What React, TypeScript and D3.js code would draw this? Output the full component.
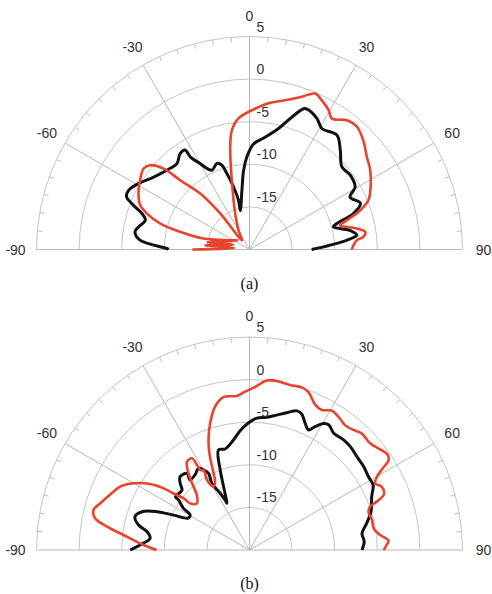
import React from "react";
import * as d3 from "d3";

// ---- data: (angle in degrees, level in dB), in drawing order ----
const blackA_angle = [-90, -89.3, -85.1, -81.2, -78.5, -74.3, -71.5, -69.1, -66.8, -63.9, -59.3, -52.9, -46.2, -40.2, -35.8, -32.9, -32.6, -29.8, -25.4, -20.8, -18.1, -16.6, -14.3, -12.6, -13.3, -7.3, -4.3, -1.6, 2.2, 7.9, 13.5, 17.7, 21.0, 22.3, 27.2, 30.9, 37.4, 42.4, 48.2, 53.6, 59.4, 62.4, 67.4, 70.9, 73.4, 74.9, 79.2, 82.4, 84.5, 86.9, 90];
const blackA_db = [-10.5, -10.3, -7.1, -6.4, -6.7, -7.3, -6.7, -5.4, -4.3, -4.2, -4.85, -5.9, -6.55, -6.8, -6.1, -6.1, -7.1, -8.4, -9.7, -9.2, -9.6, -10.7, -12.4, -14.1, -15.3, -13.0, -10.7, -9.1, -7.6, -6.7, -5.4, -3.7, -2.3, -2.2, -2.7, -3.45, -3.1, -4.2, -5.45, -5.3, -5.6, -6.7, -5.9, -7.1, -9.3, -9.8, -8.0, -7.3, -8.5, -10.5, -12.7];

const redA_angle = [-90, -85, -84.5, -74, -80, -64, -76, -53.6, -76.6, -75.7, -73.8, -70.7, -67.9, -63.2, -57.6, -52.6, -49.7, -46.7, -45, -41.4, -39.1, -39.3, -29.7, -21.7, -14.3, -10.65, -8.4, -4.8, 1.0, 7.4, 13.4, 18.9, 22.8, 25.9, 29.6, 32.2, 37, 41.2, 46.2, 51.7, 56.7, 65.1, 67.5, 70.5, 73.3, 75, 78.9, 81.4, 83.7, 85, 89.5, 90];
const redA_db = [-13.3, -18.2, -14.8, -18.0, -15.0, -17.8, -15.3, -18.2, -14.45, -11.6, -9.1, -7.25, -6.15, -5.4, -4.8, -4.35, -4.7, -6.15, -8.5, -11.25, -14.55, -18.6, -17.4, -15.45, -11.6, -7.75, -5.85, -4.55, -3.65, -2.7, -2.0, -1.05, -0.15, -0.55, -1.2, -1.85, -1.0, -0.85, -1.5, -2.45, -3.05, -4.4, -4.9, -6.2, -8.05, -9.0, -7.15, -6.25, -6.55, -7.35, -7.95, -7.95];

const blackB_angle = [-90, -86.4, -83.3, -79.9, -77.3, -73.8, -70.4, -67.5, -65.3, -62.5, -59.4, -57.7, -54.8, -54.3, -48.4, -46.1, -43.4, -39.2, -40.3, -35.9, -32, -29.9, -28.1, -29.4, -27.3, -25.9, -25.8, -22.3, -20.1, -17.2, -13.6, -8.3, -4.5, -0.5, 3.2, 7.4, 11.4, 15.2, 18.8, 21.0, 23.7, 26.2, 28.0, 30.3, 32.3, 35.8, 40.5, 44.3, 49.0, 53.8, 58.4, 62.2, 66.4, 72.5, 77.2, 81.6, 85.8, 90];
const blackB_db = [-6.0, -7.5, -8.25, -7.8, -6.65, -6.0, -6.6, -8.25, -10.2, -11.9, -11.9, -10.8, -9.8, -9.3, -9.4, -8.7, -8.15, -8.4, -9.2, -9.1, -8.7, -9.15, -9.8, -11.0, -12.5, -13.5, -13.9, -12.0, -10.0, -7.7, -7.8, -6.95, -5.95, -5.1, -4.5, -4.3, -3.85, -3.3, -2.75, -2.9, -3.75, -4.3, -3.6, -2.8, -2.6, -3.1, -3.0, -3.05, -3.3, -3.4, -3.6, -3.6, -4.35, -5.05, -5.9, -6.65, -6.5, -6.8];

const redB_angle = [-90, -87.3, -83.2, -80.7, -78.4, -75.6, -72.6, -67.6, -63.9, -60.1, -56.4, -54.3, -53.3, -51.9, -51.8, -48.4, -43.7, -41.5, -38.5, -35.3, -32.1, -31.7, -31.6, -29.9, -31.3, -29.6, -26.7, -24.6, -22.5, -20.4, -17.3, -13.5, -9.7, -4.7, -1.6, 2.0, 5.8, 9.2, 13.8, 17.8, 20.4, 24.4, 27.3, 30.6, 33.7, 37.4, 40.9, 43.9, 48.5, 52.4, 55.2, 57.1, 58.5, 60.1, 62.1, 64.4, 67.4, 69.2, 70.2, 72.6, 76.2, 80.1, 83.5, 86.2, 87.9, 90];
const redB_db = [-9.1, -7.55, -5.1, -3.05, -1.5, -1.1, -1.65, -2.5, -3.1, -4.3, -6.0, -7.6, -8.9, -10.15, -11.15, -11.75, -11.05, -10.1, -8.5, -7.3, -7.3, -8.25, -9.0, -9.2, -10.4, -11.45, -11.0, -9.65, -7.7, -6.2, -4.45, -2.7, -1.8, -1.85, -1.4, -0.85, 0.0, 0.1, -0.05, 0.05, -0.2, -1.3, -1.5, -1.0, -1.2, -1.55, -1.35, -1.0, -1.1, -0.65, -0.3, -0.55, -1.65, -2.75, -3.3, -2.8, -2.9, -4.0, -4.95, -5.35, -5.2, -5.2, -4.55, -3.65, -3.9, -4.25];

const ringValues = [-15, -10, -5, 0, 5];
const angleLabels = [-90, -60, -30, 0, 30, 60, 90];

const W = 492;
const H = 594;
const R = 213;
const CX = 249.5;
const RED = "#e8432d";
const SANS = "'Liberation Sans', Arial, Helvetica, sans-serif";
const SERIF = "'Liberation Serif', 'Times New Roman', serif";

const rScale = d3.scaleLinear().domain([-20, 5]).range([0, R]).clamp(true);
const rad = (deg: number) => (deg * Math.PI) / 180;

function toPoints(angles: number[], db: number[]) {
  return angles.map((a, i) => [a, db[i]] as [number, number]);
}

const line = d3
  .lineRadial<[number, number]>()
  .angle((d) => rad(d[0]))
  .radius((d) => rScale(d[1]))
  .curve(d3.curveCatmullRom.alpha(0.5));

function Polar({ cy, black, red, caption }: { cy: number; black: [number, number][]; red: [number, number][]; caption: string }) {
  const minor = d3.range(-85, 90, 5).filter((a) => a % 30 !== 0);
  const arc = (r: number) => `M${-r},0 A${r},${r} 0 0 1 ${r},0`;
  return (
    <g>
      <g transform={`translate(${CX},${cy})`}>
        {ringValues.map((v) => (
          <path key={v} d={arc(rScale(v))} fill="none" stroke="#c4c4c4" strokeWidth={1} />
        ))}
        <line x1={-R} y1={0} x2={R} y2={0} stroke="#b8b8b8" strokeWidth={1} />
        {angleLabels.filter((a) => Math.abs(a) < 90).map((a) => (
          <line key={a} x1={0} y1={0} x2={R * Math.sin(rad(a))} y2={-R * Math.cos(rad(a))} stroke="#b8b8b8" strokeWidth={1} />
        ))}
        {minor.map((a) => (
          <line
            key={a}
            x1={(R - 5) * Math.sin(rad(a))}
            y1={-(R - 5) * Math.cos(rad(a))}
            x2={R * Math.sin(rad(a))}
            y2={-R * Math.cos(rad(a))}
            stroke="#bdbdbd"
            strokeWidth={1}
          />
        ))}
        <path d={line(black) || ""} fill="none" stroke="#111" strokeWidth={3} strokeLinejoin="round" />
        <path d={line(red) || ""} fill="none" stroke={RED} strokeWidth={2.6} strokeLinejoin="round" />
        {ringValues.map((v) => (
          <text key={v} x={7} y={-rScale(v) - 5} fontSize={14} fill="#333" fontFamily={SANS}>
            {v}
          </text>
        ))}
        {angleLabels.map((a) => (
          <text
            key={a}
            x={234 * Math.sin(rad(a))}
            y={-234 * Math.cos(rad(a))}
            fontSize={14}
            fill="#333"
            textAnchor="middle"
            dominantBaseline="central"
            fontFamily={SANS}
          >
            {a}
          </text>
        ))}
      </g>
      <text x={CX} y={cy + 39} fontSize={16} textAnchor="middle" fontFamily={SERIF} fill="#111">
        {caption}
      </text>
    </g>
  );
}

export default function App() {
  return (
    <svg width={W} height={H} style={{ position: "absolute", left: 0, top: 0, background: "#fff" }}>
      <Polar cy={249.5} black={toPoints(blackA_angle, blackA_db)} red={toPoints(redA_angle, redA_db)} caption="(a)" />
      <Polar cy={550} black={toPoints(blackB_angle, blackB_db)} red={toPoints(redB_angle, redB_db)} caption="(b)" />
    </svg>
  );
}
